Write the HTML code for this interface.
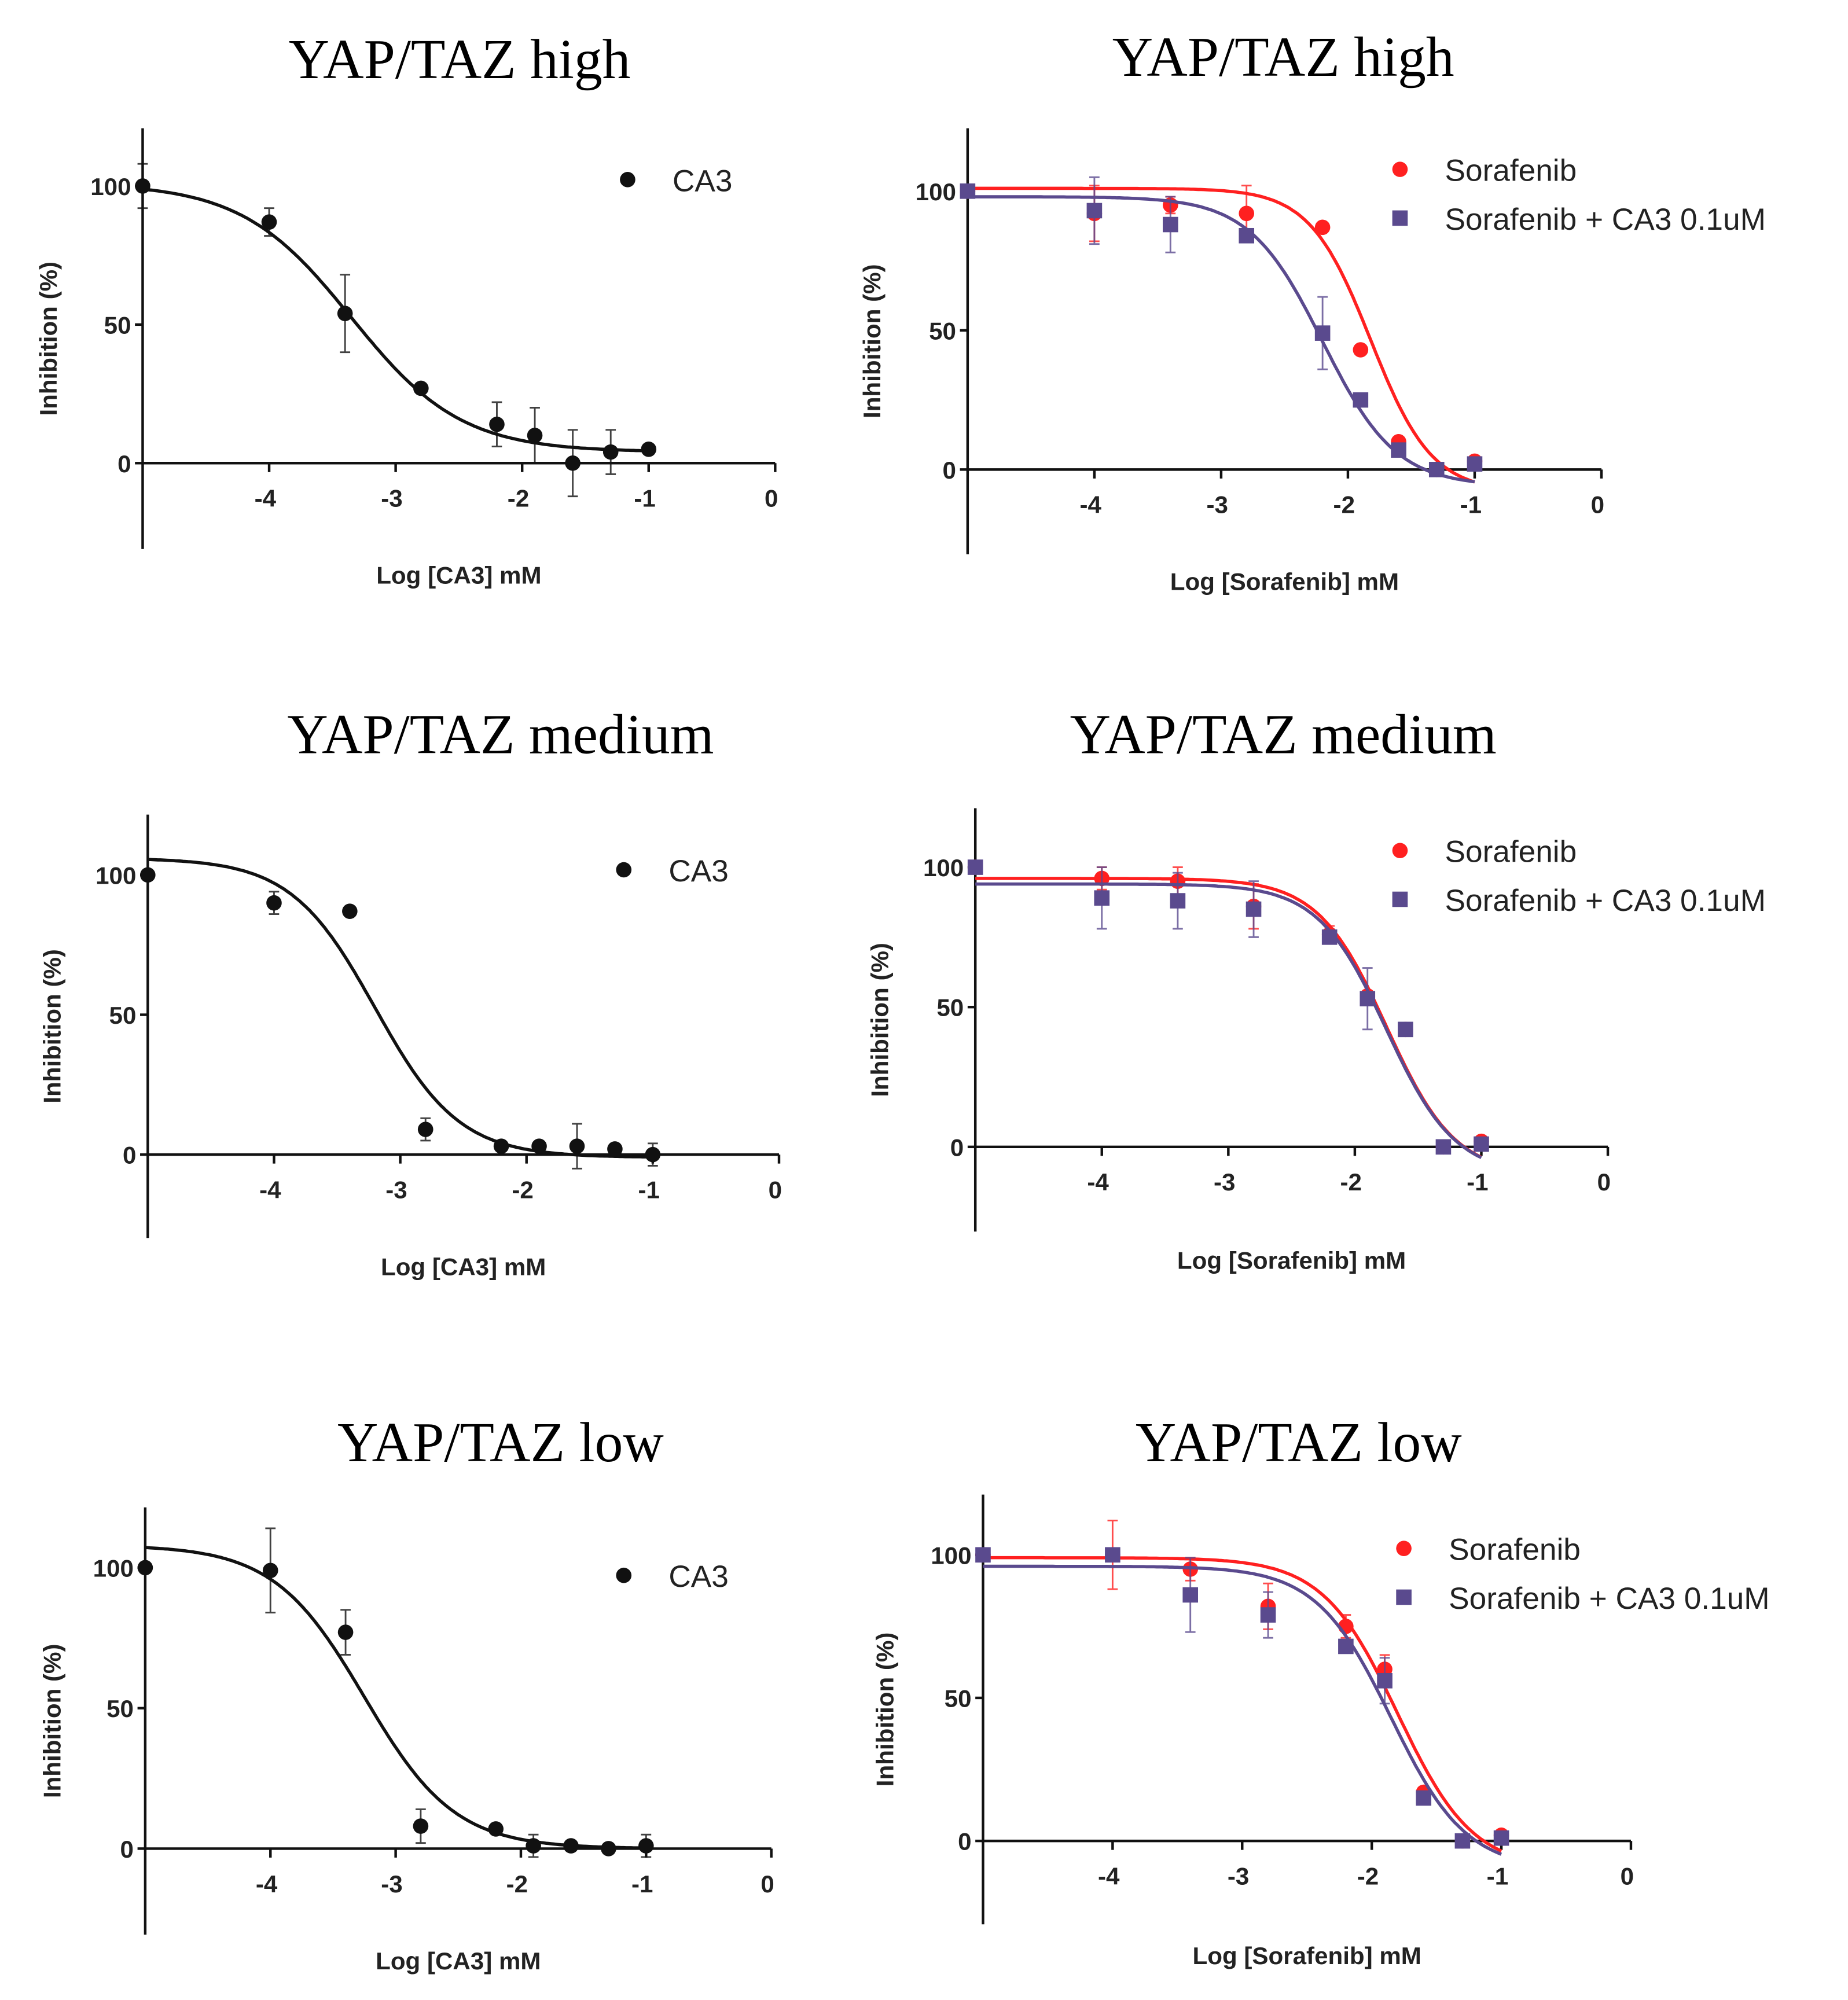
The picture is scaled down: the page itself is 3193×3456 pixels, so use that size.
<!DOCTYPE html>
<html><head><meta charset="utf-8"><style>
html,body{margin:0;padding:0;background:#fff}
svg{display:block}
.tick{font:bold 19px "Liberation Sans",sans-serif;fill:#222}
.atitle{font:bold 19px "Liberation Sans",sans-serif;fill:#222}
.title{font:44px "Liberation Serif",serif;fill:#000}
.leg{font:24px "Liberation Sans",sans-serif;fill:#222}
</style></head><body>
<svg id="fig" width="3193" height="3456" viewBox="0 0 1440 1559" xmlns="http://www.w3.org/2000/svg"></svg>
<script>
const xVals = [-5,-4,-3.4,-2.8,-2.2,-1.9,-1.6,-1.3,-1];
const xTicks = [-4,-3,-2,-1,0];
const yTicks = [0,50,100];
const caHigh = [100,87,54,27,14,10,0,4,5];
const caHighErr = [8,5,14,0,8,10,12,8,0];
const caMed = [100,90,87,9,3,3,3,2,0];
const caMedErr = [0,4,0,4,0,0,8,0,4];
const caLow = [100,99,77,8,7,1,1,0,1];
const caLowErr = [0,15,8,6,0,4,0,0,4];
const sorHigh = [100,92,95,92,87,43,10,0,3];
const sorHighErr = [0,10,3,10,0,0,0,0,0];
const comboHigh = [100,93,88,84,49,25,7,0,2];
const comboHighErr = [0,12,10,0,13,0,0,0,0];
const sorMed = [100,96,95,86,76,54,42,0,2];
const sorMedErr = [0,4,5,8,3,0,0,0,0];
const comboMed = [100,89,88,85,75,53,42,0,1];
const comboMedErr = [0,11,10,10,0,11,0,0,0];
const sorLow = [100,100,95,82,75,60,17,0,2];
const sorLowErr = [0,12,4,8,4,5,0,0,0];
const comboLow = [100,100,86,79,68,56,15,0,1];
const comboLowErr = [0,0,13,8,0,8,0,0,0];

const NS="http://www.w3.org/2000/svg";
const svg=document.getElementById('fig');
function mk(tag,attrs,parent){const e=document.createElementNS(NS,tag);for(const k in attrs)e.setAttribute(k,attrs[k]);(parent||svg).appendChild(e);return e;}

const panels=[
 {name:'ca3-high',ax:111,ay0:361,y100:145,yTop:100,yBot:428,x0:604,title:'YAP/TAZ high',tx:358,ty:61,xt:'Log [CA3] mM',xtY:455,ylX:44,xEnd:-1,
  series:[{n:'ca3',d:caHigh,e:caHighErr,c:'#111',m:'circle',fit:[101,4,-3.35,1.0]}],leg:[489,140]},
 {name:'sorafenib-high',ax:754,ay0:366,y100:149,yTop:100,yBot:432,x0:1248,title:'YAP/TAZ high',tx:1000,ty:59,xt:'Log [Sorafenib] mM',xtY:460,ylX:686,xEnd:-1,
  series:[{n:'sorafenib',d:sorHigh,e:sorHighErr,c:'#ff2020',m:'circle',fit:[101,-8,-1.82,1.8]},
          {n:'sorafenib-ca3',d:comboHigh,e:comboHighErr,c:'#5a4a8e',m:'square',fit:[98,-6,-2.2,1.5]}],leg:[1091,132]},
 {name:'ca3-medium',ax:115,ay0:900,y100:682,yTop:635,yBot:965,x0:607,title:'YAP/TAZ medium',tx:390,ty:587,xt:'Log [CA3] mM',xtY:994,ylX:47,xEnd:-1,
  series:[{n:'ca3',d:caMed,e:caMedErr,c:'#111',m:'circle',fit:[106,-1,-3.2,1.3]}],leg:[486,678]},
 {name:'sorafenib-medium',ax:760,ay0:894,y100:676,yTop:630,yBot:960,x0:1253,title:'YAP/TAZ medium',tx:1000,ty:587,xt:'Log [Sorafenib] mM',xtY:989,ylX:692,xEnd:-1,
  series:[{n:'sorafenib',d:sorMed,e:sorMedErr,c:'#ff2020',m:'circle',fit:[96,-10,-1.75,1.6]},
          {n:'sorafenib-ca3',d:comboMed,e:comboMedErr,c:'#5a4a8e',m:'square',fit:[94,-10,-1.75,1.6]}],leg:[1091,663]},
 {name:'ca3-low',ax:113,ay0:1441,y100:1222,yTop:1175,yBot:1508,x0:601,title:'YAP/TAZ low',tx:390,ty:1139,xt:'Log [CA3] mM',xtY:1535,ylX:47,xEnd:-1,
  series:[{n:'ca3',d:caLow,e:caLowErr,c:'#111',m:'circle',fit:[108,0,-3.25,1.2]}],leg:[486,1228]},
 {name:'sorafenib-low',ax:766,ay0:1435,y100:1212,yTop:1165,yBot:1500,x0:1271,title:'YAP/TAZ low',tx:1012,ty:1139,xt:'Log [Sorafenib] mM',xtY:1531,ylX:696,xEnd:-1,
  series:[{n:'sorafenib',d:sorLow,e:sorLowErr,c:'#ff2020',m:'circle',fit:[99,-10,-1.8,1.5]},
          {n:'sorafenib-ca3',d:comboLow,e:comboLowErr,c:'#5a4a8e',m:'square',fit:[96,-10,-1.85,1.5]}],leg:[1094,1207]}
];

panels.forEach(p=>{
  const g=mk('g',{});
  
  
  const sx=v=>p.ax+(v+5)*(p.x0-p.ax)/5;
  const sy=v=>p.ay0-v*(p.ay0-p.y100)/100;
  const t=mk('text',{x:p.tx,y:p.ty,'text-anchor':'middle',class:'title'},g);t.textContent=p.title;
  
  const ya=mk('line',{x1:p.ax,x2:p.ax,y1:p.yTop,y2:p.yBot,stroke:'#111','stroke-width':2},g);
  
  const xa=mk('line',{x1:p.ax,x2:p.x0,y1:p.ay0,y2:p.ay0,stroke:'#111','stroke-width':2},g);
  
  yTicks.forEach(v=>{
    mk('line',{x1:p.ax-6,x2:p.ax,y1:sy(v),y2:sy(v),stroke:'#111','stroke-width':2},g);
    const tl=mk('text',{x:p.ax-9,y:sy(v)+7,'text-anchor':'end',class:'tick'},g);tl.textContent=v;
    
  });
  xTicks.forEach(v=>{
    mk('line',{x1:sx(v),x2:sx(v),y1:p.ay0,y2:p.ay0+7,stroke:'#111','stroke-width':2},g);
    const tl=mk('text',{x:sx(v)-3,y:p.ay0+34,'text-anchor':'middle',class:'tick'},g);tl.textContent=v;
    
  });
  const xt=mk('text',{x:(p.ax+p.x0)/2,y:p.xtY,'text-anchor':'middle',class:'atitle'},g);xt.textContent=p.xt;
  
  const cy=(p.yTop+p.yBot)/2;
  const yt=mk('text',{x:p.ylX,y:cy,'text-anchor':'middle',class:'atitle',transform:`rotate(-90 ${p.ylX} ${cy})`},g);yt.textContent='Inhibition (%)';
  
  p.series.forEach((s,si)=>{
    const [top,bot,ic,h]=s.fit;
    let dstr='';
    for(let x=-5;x<=p.xEnd+0.001;x+=0.02){const y=bot+(top-bot)/(1+Math.pow(10,(x-ic)*h));dstr+=(dstr?'L':'M')+sx(x).toFixed(1)+','+sy(y).toFixed(1);}
    const c=mk('path',{d:dstr,fill:'none',stroke:s.c,'stroke-width':2.5},g);
    
    s.d.forEach((v,i)=>{
      const px=sx(xVals[i]),py=sy(v);
      if(s.e[i]>0){
        const eb=mk('path',{d:`M${px},${sy(v+s.e[i])}V${sy(v-s.e[i])}M${px-4},${sy(v+s.e[i])}h8M${px-4},${sy(v-s.e[i])}h8`,stroke:s.c,'stroke-width':1.3,fill:'none',opacity:0.8},g);
        
      }
      let m;
      if(s.m==='circle') m=mk('circle',{cx:px,cy:py,r:6,fill:s.c},g);
      else m=mk('rect',{x:px-6,y:py-6,width:12,height:12,fill:s.c},g);
      
    });
    const lx=p.leg[0],ly=p.leg[1]+si*38;
    let lm;
    if(s.m==='circle') lm=mk('circle',{cx:lx,cy:ly,r:6,fill:s.c},g);
    else lm=mk('rect',{x:lx-6,y:ly-6,width:12,height:12,fill:s.c},g);
    
    const lt=mk('text',{x:lx+35,y:ly+9,class:'leg'},g);
    lt.textContent=s.n==='ca3'?'CA3':(s.n==='sorafenib'?'Sorafenib':'Sorafenib + CA3 0.1uM');
    
  });
});
</script>
</body></html>
